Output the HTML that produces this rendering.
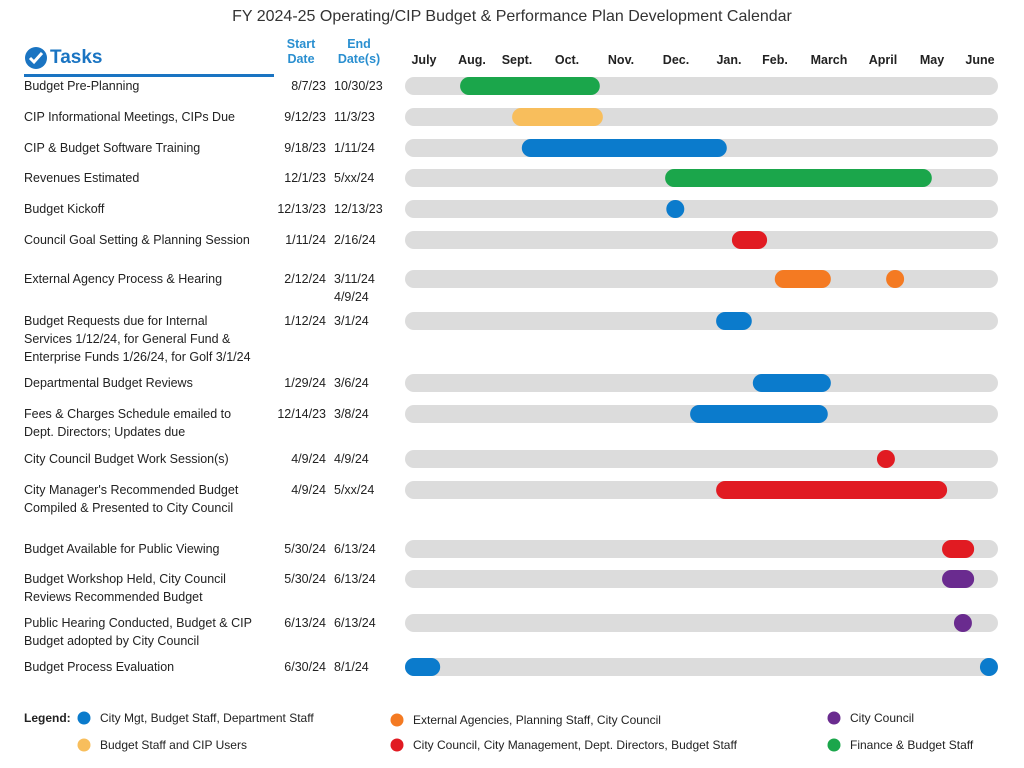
<!DOCTYPE html>
<html><head><meta charset="utf-8"><style>
body{margin:0;width:1024px;height:768px;background:#fff;font-family:"Liberation Sans",sans-serif;overflow:hidden;position:relative;color:#222}
.t{position:absolute;font-size:12.5px;line-height:18px;white-space:nowrap}
</style></head><body>
<div class="t" style="left:0;width:1024px;text-align:center;top:8px;font-size:16px;color:#333">FY 2024-25 Operating/CIP Budget &amp; Performance Plan Development Calendar</div>
<svg style="position:absolute;left:24px;top:46px" width="24" height="24"><circle cx="12" cy="12" r="11" fill="#1a74c2"/><path d="M6 12l4 4 8-9" stroke="#fff" stroke-width="3" fill="none"/></svg>
<div class="t" style="left:50px;top:47px;font-size:19px;font-weight:bold;color:#1a74c2;line-height:22px">Tasks</div>
<div style="position:absolute;left:24px;top:74px;width:250px;height:3px;background:#1a74c2"></div>
<div class="t" style="left:276px;width:50px;text-align:center;top:37px;color:#2a8fd0;font-weight:bold;line-height:15px">Start<br>Date</div>
<div class="t" style="left:332px;width:54px;text-align:center;top:37px;color:#2a8fd0;font-weight:bold;line-height:15px">End<br>Date(s)</div>
<div id="rows"></div>
<svg id="g" style="position:absolute;left:0;top:0" width="1024" height="768"></svg>
<div id="leg"></div>
<script>
const months=["July","Aug.","Sept.","Oct.","Nov.","Dec.","Jan.","Feb.","March","April","May","June"];
const monthX=[424,472,517,567,621,676,729,775,829,883,932,980];
const tasks=["Budget Pre-Planning","CIP Informational Meetings, CIPs Due","CIP & Budget Software Training","Revenues Estimated","Budget Kickoff","Council Goal Setting & Planning Session","External Agency Process & Hearing","Budget Requests due for Internal<br>Services 1/12/24, for General Fund &amp;<br>Enterprise Funds 1/26/24, for Golf 3/1/24","Departmental Budget Reviews","Fees & Charges Schedule emailed to<br>Dept. Directors; Updates due","City Council Budget Work Session(s)","City Manager's Recommended Budget<br>Compiled & Presented to City Council","Budget Available for Public Viewing","Budget Workshop Held, City Council<br>Reviews Recommended Budget","Public Hearing Conducted, Budget & CIP<br>Budget adopted by City Council","Budget Process Evaluation"];
const startDates=["8/7/23","9/12/23","9/18/23","12/1/23","12/13/23","1/11/24","2/12/24","1/12/24","1/29/24","12/14/23","4/9/24","4/9/24","5/30/24","5/30/24","6/13/24","6/30/24"];
const endDates=["10/30/23","11/3/23","1/11/24","5/xx/24","12/13/23","2/16/24","3/11/24<br>4/9/24","3/1/24","3/6/24","3/8/24","4/9/24","5/xx/24","6/13/24","6/13/24","6/13/24","8/1/24"];
const rowY=[86,117,148,178,209,240,279,321,383,414,459,490,549,579,623,667];
// bars: [row, startMonth, endMonth, colorKey] ; dots: [row, month, colorKey]
const bars=[[0,1.08,3.82,"g"],[1,2.10,3.88,"y"],[2,2.29,6.31,"b"],[3,5.10,10.33,"g"],[5,6.41,7.10,"r"],[6,7.25,8.35,"o"],[7,6.10,6.80,"b"],[8,6.82,8.35,"b"],[9,5.59,8.29,"b"],[11,6.10,10.63,"r"],[12,10.53,11.16,"r"],[13,10.53,11.16,"p"],[15,0,0.69,"b"]];
const dots=[[4,5.30,"b"],[6,9.61,"o"],[10,9.43,"r"],[14,10.94,"p"],[15,11.45,"b"]];
const colors={b:"#0b7bcc",y:"#f8be5c",g:"#1ba64b",r:"#e11b22",o:"#f47a22",p:"#6a2b8f"};
const X0=405,MW=51;
const xs=v=>X0+v*MW;
const NS="http://www.w3.org/2000/svg",g=document.getElementById('g');
function el(t,a){const e=document.createElementNS(NS,t);for(const k in a)e.setAttribute(k,a[k]);g.appendChild(e);return e;}
months.forEach((m,i)=>{const t=el('text',{x:monthX[i],y:64,'text-anchor':'middle','font-size':12.5,'font-weight':'bold','font-family':'Liberation Sans, sans-serif',fill:'#222'});t.textContent=m;

});
const rows=document.getElementById('rows');
tasks.forEach((s,i)=>{const y=rowY[i]-9;
const a=document.createElement('div');a.className='t';a.style.cssText=`left:24px;top:${y}px`;a.innerHTML=s.replace(/&(?!amp;)/g,'&amp;');

rows.appendChild(a);
const b=document.createElement('div');b.className='t';b.style.cssText=`left:262px;width:64px;text-align:right;top:${y}px`;b.textContent=startDates[i];

rows.appendChild(b);
const c=document.createElement('div');c.className='t';c.style.cssText=`left:334px;top:${y}px`;c.innerHTML=endDates[i];

rows.appendChild(c);
const tr=el('rect',{x:X0,y:rowY[i]-9,width:593,height:18,rx:9,fill:'#dcdcdc'});

});
bars.forEach(b=>{const r=el('rect',{x:xs(b[1]),y:rowY[b[0]]-9,width:xs(b[2])-xs(b[1]),height:18,rx:9,fill:colors[b[3]]});

});
dots.forEach(d=>{const c=el('circle',{cx:xs(d[1]),cy:rowY[d[0]],r:9,fill:colors[d[2]]});

});
const legItems=[[84,718,"b","City Mgt, Budget Staff, Department Staff"],[397,720,"o","External Agencies, Planning Staff, City Council"],[834,718,"p","City Council"],[84,745,"y","Budget Staff and CIP Users"],[397,745,"r","City Council, City Management, Dept. Directors, Budget Staff"],[834,745,"g","Finance & Budget Staff"]];
const leg=document.getElementById('leg');
const L=document.createElement('div');L.className='t';L.style.cssText='left:24px;top:709px;font-weight:bold;font-size:12px';L.textContent='Legend:';

leg.appendChild(L);
legItems.forEach(it=>{const c=el('circle',{cx:it[0],cy:it[1],r:6.5,fill:colors[it[2]]});


const d=document.createElement('div');d.className='t';d.style.cssText=`left:${it[0]+16}px;top:${it[1]-9}px;font-size:12px`;d.textContent=it[3];

leg.appendChild(d);});
</script>
</body></html>
